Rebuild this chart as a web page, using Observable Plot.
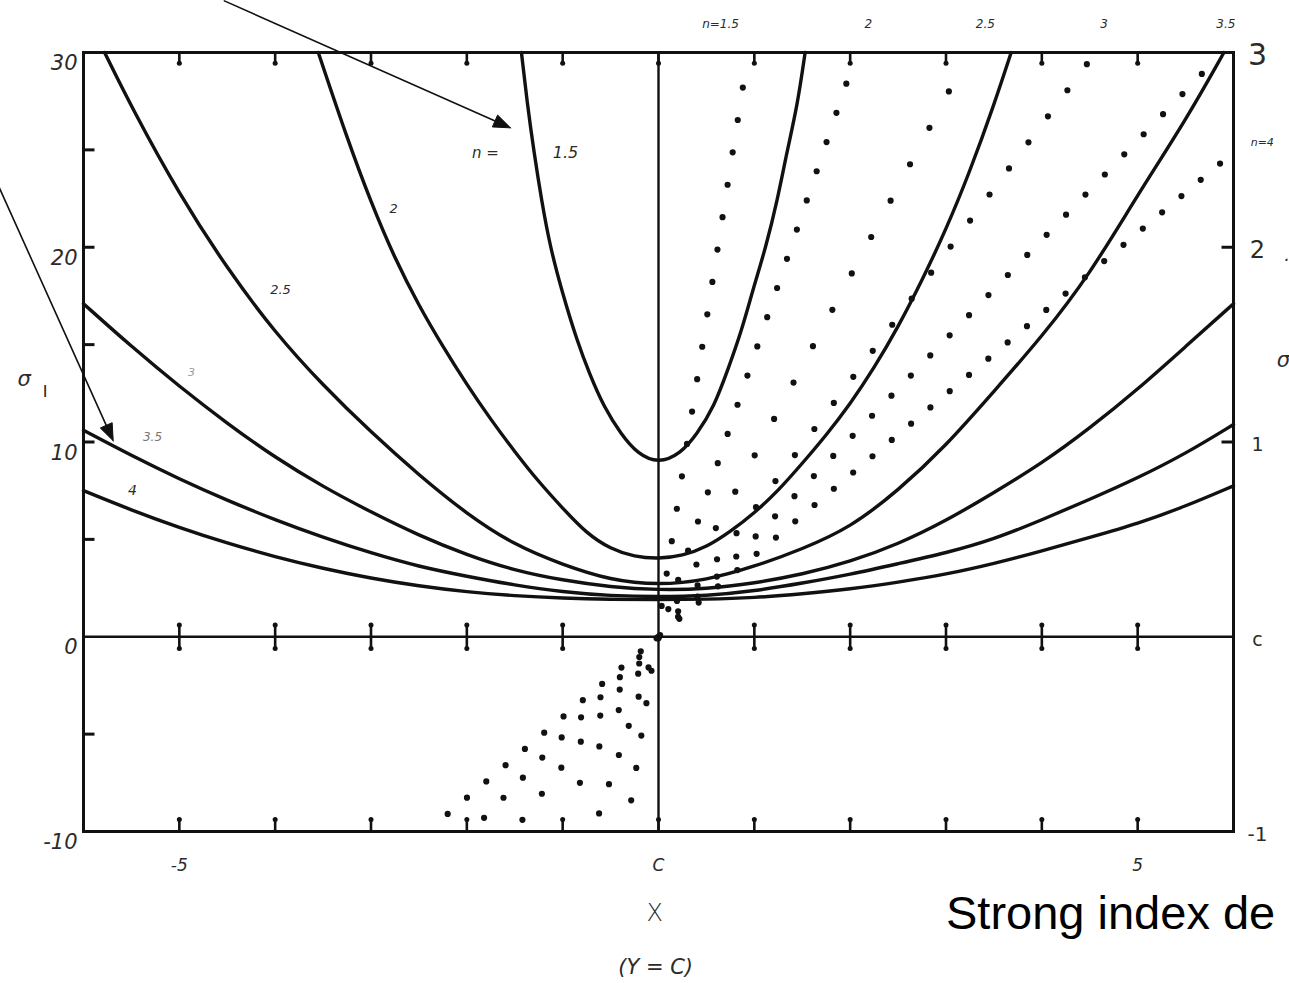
<!DOCTYPE html>
<html><head><meta charset="utf-8">
<script src="https://cdn.jsdelivr.net/npm/d3@7"></script>
<script src="https://cdn.jsdelivr.net/npm/@observablehq/plot@0.6"></script>
<style>html,body{margin:0;padding:0;background:#fff;overflow:hidden} svg{display:block}</style>
</head><body><div id="chart"></div>
<script>
// ---- solid curves (sigma_I vs X), index n ----
const curveN = [1.5, 2, 2.5, 3, 3.5, 4];
const n15X = [-1.43,-1.37,-1.30,-1.22,-1.13,-1.00,-0.85,-0.72,-0.57,-0.39,-0.22,0,0.23,0.40,0.58,0.73,0.86,0.99,1.12,1.24,1.34,1.45,1.53];
const n15Y = [30,27.4,24.9,22.4,20.0,17.6,15.2,13.5,11.8,10.4,9.4,8.9,9.4,10.4,11.8,13.8,15.6,17.9,20.0,22.4,24.9,27.3,30];
const n2X = [-3.55,-3.25,-3.0,-2.75,-2.5,-2.25,-2.0,-1.75,-1.5,-1.25,-1.0,-0.75,-0.5,-0.25,0,0.25,0.5,0.75,1.0,1.25,1.5,1.75,2.0,2.25,2.5,2.75,3.0,3.25,3.5,3.68];
const n2Y = [30,25.6,22.3,19.4,17.0,14.9,12.95,11.15,9.5,7.95,6.6,5.3,4.5,4.1,4.0,4.15,4.6,5.4,6.35,7.5,8.9,10.35,11.95,13.8,15.9,18.3,20.9,23.9,27.3,30];
const n25X = [-5.78,-5.5,-5,-4.5,-4,-3.5,-3,-2.5,-2,-1.5,-1,-0.5,0,0.5,1,1.5,2,2.5,3,3.5,4,4.5,5,5.5,5.9];
const n25Y = [30,27.2,22.7,18.9,15.6,12.9,10.5,8.3,6.3,4.7,3.7,2.9,2.65,2.9,3.6,4.5,5.6,7.5,9.8,12.6,15.4,18.6,22.7,26.5,30];
const gridX = [-6,-5.5,-5,-4.5,-4,-3.5,-3,-2.5,-2,-1.5,-1,-0.5,0,0.5,1,1.5,2,2.5,3,3.5,4,4.5,5,5.5,6];
const n3Y  = [17.1,14.9,12.85,10.95,9.2,7.7,6.4,5.2,4.2,3.4,2.9,2.55,2.4,2.45,2.75,3.2,3.85,4.75,5.95,7.4,8.9,10.7,12.7,14.9,17.1];
const n35Y = [10.6,9.3,8.1,7.0,6.0,5.1,4.3,3.6,3.1,2.65,2.3,2.1,2.05,2.1,2.35,2.75,3.2,3.75,4.3,5.0,6.0,7.05,8.15,9.4,10.9];
const n4Y  = [7.5,6.5,5.6,4.8,4.1,3.5,3.0,2.6,2.3,2.1,1.98,1.92,1.9,1.92,2.0,2.2,2.45,2.8,3.2,3.75,4.4,5.1,5.8,6.7,7.75];

// ---- dotted straight rays (sigma_II), one per index n ----
const rayN     = [1.5, 2, 2.5, 3, 3.5, 4];
const rayX1    = [-0.285, -0.62, -0.82, -1.42, -1.82, -2.2];
const rayY1    = [-8.4, -9.07, -7.5, -9.4, -9.3, -9.1];
const rayX2    = [0.88, 1.96, 3.03, 4.47, 5.67, 5.86];
const rayY2    = [28.2, 28.4, 28.0, 29.4, 28.9, 24.3];
const rayDots  = [23, 26, 20, 30, 38, 41];
const rayLabel = ["n=1.5", "2", "2.5", "3", "3.5"];

// ---- ticks and tick labels ----
const xTicks = [-5,-4,-3,-2,-1,0,1,2,3,4,5];
const yTicksLeft = [-5,5,10,15,20,25];
const yTicksRight = [10,20];
const leftLabelV = [30,20,10,0,-10];
const leftLabelT = ["30","20","10","0","-10"];
const rightLabelV = [30,20,10,0,-10];
const rightLabelT = ["3","2","1","c","-1"];
const bottomLabelV = [-5,0,5];
const bottomLabelT = ["-5","C","5"];

const curveXs = [n15X, n2X, n25X, gridX, gridX, gridX];
const curveYs = [n15Y, n2Y, n25Y, n3Y, n35Y, n4Y];
const curveRows = curveN.flatMap((n,i) => curveXs[i].map((x,j) => ({n, x, y: curveYs[i][j]})));

const opts = {
  width: 1289, height: 983,
  marginLeft: 83, marginRight: 56, marginTop: 52, marginBottom: 152,
  x: {domain: [-6, 6], axis: null},
  y: {domain: [-10, 30], axis: null},
  style: {background: "#fff", color: "#111"}
};
const base = Plot.plot({...opts, marks: []});
const sx = base.scale("x"), sy = base.scale("y");
const X = v => sx.apply(v), Y = v => sy.apply(v);

const ink = "#111";
const hand = {fontFamily: "DejaVu Sans, sans-serif", fontStyle: "italic", fill: "#2b2b2b"};
function label(t, x, y, size, extra = {}) {
  return Plot.text([{t, x, y}], {x: "x", y: "y", text: "t", fontSize: size, ...hand, ...extra});
}

// dotted rays: a dotted line whose dots fall at the read dot count
const rayMarks = rayN.map((n, i) => {
  const len = Math.hypot(X(rayX2[i]) - X(rayX1[i]), Y(rayY2[i]) - Y(rayY1[i]));
  const gap = len / (rayDots[i] - 1) - 0.001;
  return Plot.line([[rayX1[i], rayY1[i]], [rayX2[i], rayY2[i]]], {
    stroke: ink, strokeWidth: 6.2, strokeLinecap: "round", strokeDasharray: `0 ${gap}`
  });
});

// arrows
const arrowFromX = [-4.53, -7.12], arrowFromY = [32.65, 25.7];
const arrowToX = [-1.544, -5.69], arrowToY = [26.13, 10.06];
function arrowMarks(x1, y1, x2, y2) {
  const p1 = [X(x1), Y(y1)], p2 = [X(x2), Y(y2)];
  const dx = p2[0] - p1[0], dy = p2[1] - p1[1], len = Math.hypot(dx, dy);
  const ux = dx / len, uy = dy / len, L = 17, w = 6.5;
  const bx = p2[0] - L * ux, by = p2[1] - L * uy;
  const tri = [[p2[0], p2[1]], [bx - w * uy, by + w * ux], [bx + w * uy, by - w * ux], [p2[0], p2[1]]]
    .map(([a, b]) => [sx.invert(a), sy.invert(b)]);
  return [
    Plot.line([[x1, y1], [sx.invert(bx + 2 * ux), sy.invert(by + 2 * uy)]], {stroke: ink, strokeWidth: 1.6}),
    Plot.line(tri, {fill: ink, stroke: ink, strokeWidth: 1})
  ];
}

const inner = xTicks.filter(d => d !== 0);

const chart = Plot.plot({
  ...opts,
  marks: [
    Plot.frame({stroke: ink, strokeWidth: 3}),
    Plot.ruleY([0], {stroke: ink, strokeWidth: 2.6}),
    Plot.ruleX([0], {stroke: ink, strokeWidth: 2.4}),
    // ticks with ink bulbs
    Plot.ruleX(xTicks, {x: d => d, y1: 30, y2: 29.45, stroke: ink, strokeWidth: 2.6}),
    Plot.dot(xTicks, {x: d => d, y: 29.45, r: 2.5, fill: ink}),
    Plot.ruleX(xTicks, {x: d => d, y1: -10, y2: -9.35, stroke: ink, strokeWidth: 2.6}),
    Plot.dot(xTicks, {x: d => d, y: -9.38, r: 2.5, fill: ink}),
    Plot.ruleX(inner, {x: d => d, y1: -0.62, y2: 0.62, stroke: ink, strokeWidth: 2.6}),
    Plot.dot(inner, {x: d => d, y: 0.6, r: 2.5, fill: ink}),
    Plot.dot(inner, {x: d => d, y: -0.6, r: 2.5, fill: ink}),
    Plot.ruleY(yTicksLeft, {y: d => d, x1: -6, x2: -5.88, stroke: ink, strokeWidth: 3}),
    Plot.ruleY(yTicksRight, {y: d => d, x1: 5.88, x2: 6, stroke: ink, strokeWidth: 3}),
    // solid curves
    Plot.line(curveRows, {x: "x", y: "y", z: "n", curve: "basis", stroke: ink, strokeWidth: 3.4}),
    // dotted rays
    ...rayMarks,
    // arrows
    ...arrowMarks(arrowFromX[0], arrowFromY[0], arrowToX[0], arrowToY[0]),
    ...arrowMarks(arrowFromX[1], arrowFromY[1], arrowToX[1], arrowToY[1]),
    // axis labels left
    Plot.text(leftLabelV, {x: -6, y: d => d, text: (d, i) => leftLabelT[i], dx: -6, dy: 11, textAnchor: "end", fontSize: 21, ...hand}),
    // axis labels right
    Plot.text(rightLabelV, {x: 6, y: d => d, text: (d, i) => rightLabelT[i], dx: 24, dy: 3, textAnchor: "middle",
      fontSize: (d, i) => [30, 24, 19, 19, 20][i], ...hand, fontStyle: (d,i) => i === 0 ? "normal" : "italic"}),
    label(".", 6.56, 19.6, 18),
    label("n=4", 6.30, 25.36, 11),
    // x labels
    Plot.text(bottomLabelV, {x: d => d, y: -10, text: (d, i) => bottomLabelT[i], dy: 34, fontSize: 17, ...hand}),
    label("X", -0.04, -14.22, 24, {fontStyle: "normal", fontWeight: 300}),
    label("(Y = C)", -0.03, -16.99, 21),
    // sigma labels
    label("σ", -6.62, 13.2, 21),
    label("I", -6.40, 12.55, 16, {fontStyle: "normal", fill: "#222"}),
    label("σ", 6.52, 14.2, 21),
    // curve labels
    label("n =", -1.805, 24.85, 15),
    label("1.5", -0.97, 24.85, 16),
    label("2", -2.765, 21.97, 13),
    label("2.5", -3.944, 17.81, 13),
    label("3", -4.873, 13.55, 11, {fill: "#999"}),
    label("3.5", -5.28, 10.27, 12, {fill: "#777"}),
    label("4", -5.49, 7.49, 14),
    // dotted-ray labels along the top
    Plot.text(rayLabel, {x: (d, i) => [0.647, 2.19, 3.41, 4.65, 5.92][i], y: 30, dy: -28, text: d => d, fontSize: 12, ...hand}),
    // caption fragment
    Plot.text(["Strong index de"], {x: 3.0, y: -14.99, text: d => d, textAnchor: "start", lineAnchor: "bottom",
      fontSize: 47, fontFamily: "Liberation Sans, Arial, sans-serif", fill: "#000"})
  ]
});
document.getElementById("chart").appendChild(chart);
</script>
</body></html>
